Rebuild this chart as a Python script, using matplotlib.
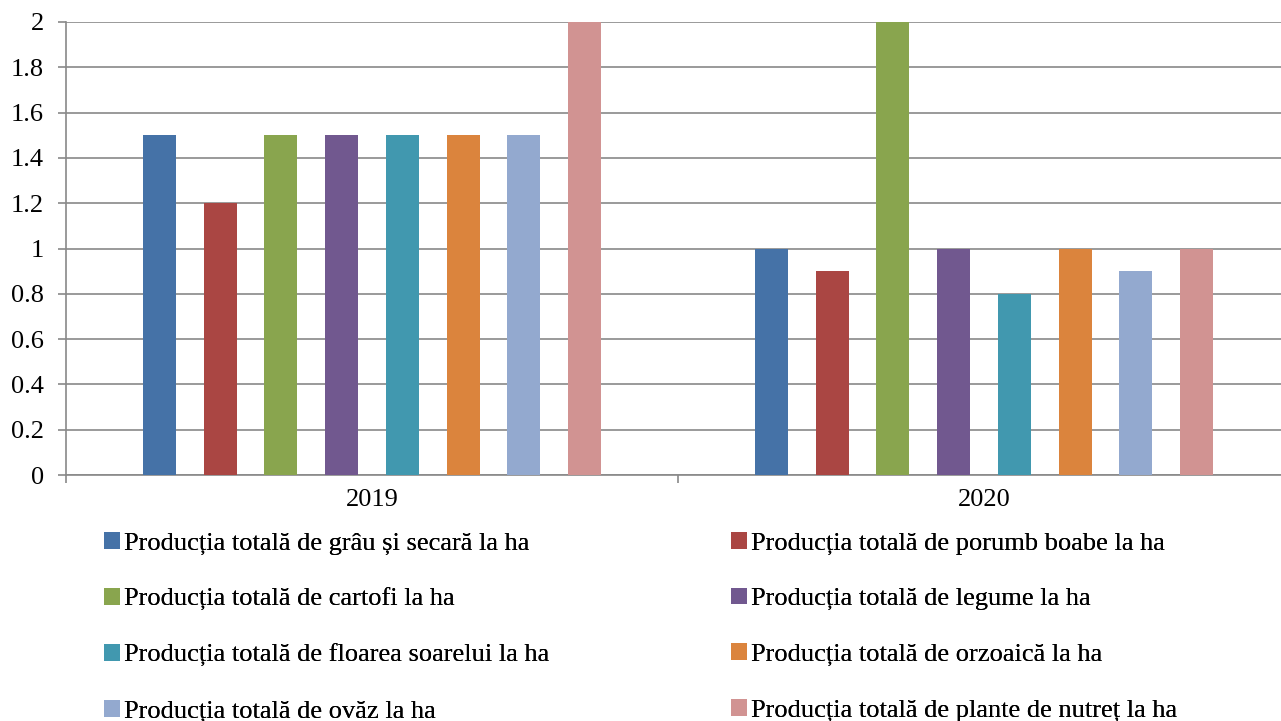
import matplotlib.pyplot as plt
import matplotlib.patches as patches
import numpy as np

plt.rcParams['font.family'] = ['Liberation Serif', 'DejaVu Serif']

# data
years = ['2019', '2020']
series_names = [
    'Producția totală de grâu și secară la ha',
    'Producția totală de porumb boabe la ha',
    'Producția totală de cartofi la ha',
    'Producția totală de legume la ha',
    'Producția totală de floarea soarelui la ha',
    'Producția totală de orzoaică la ha',
    'Producția totală de ovăz la ha',
    'Producția totală de plante de nutreț la ha',
]
values_2019 = [1.5, 1.2, 1.5, 1.5, 1.5, 1.5, 1.5, 2.0]
values_2020 = [1.0, 0.9, 2.0, 1.0, 0.8, 1.0, 0.9, 1.0]
y_ticks = [0, 0.2, 0.4, 0.6, 0.8, 1, 1.2, 1.4, 1.6, 1.8, 2]
y_tick_labels = ['0', '0.2', '0.4', '0.6', '0.8', '1', '1.2', '1.4', '1.6', '1.8', '2']

colors = ['#4572A7', '#AA4643', '#89A54E', '#71588F',
          '#4198AF', '#DB843D', '#93A9CF', '#D19392']
grid_col = '#898989'

W, H = 1281, 721
fig = plt.figure(figsize=(W / 100, H / 100), dpi=100)
fig.patch.set_facecolor('white')
# plot area: x 66..1290 px, y 22..475 px
ax = fig.add_axes([66 / W, (H - 475) / H, 1224 / W, 453 / H])
ax.set_facecolor('white')

x = np.arange(len(years))
step = 0.0992
bar_w = 0.054
handles = []
for i, name in enumerate(series_names):
    vals = [values_2019[i], values_2020[i]]
    b = ax.bar(x + (i - 3.5) * step, vals, bar_w, color=colors[i],
               zorder=3, label=name)
    handles.append(b)

ax.set_xlim(-0.5, 1.5)
ax.set_ylim(0, 2)
ax.set_yticks(y_ticks)
ax.set_yticklabels(y_tick_labels)
ax.yaxis.grid(True, color=grid_col, linewidth=1.2, zorder=0)

# category boundaries as major ticks, labels as minor ticks
ax.set_xticks([-0.5, 0.5, 1.5])
ax.set_xticklabels([])
ax.set_xticks(x, minor=True)
ax.set_xticklabels(years, minor=True)
ax.tick_params(axis='x', which='major', length=6, width=1.2, color=grid_col,
               direction='out')
ax.tick_params(axis='x', which='minor', length=0, pad=10, labelsize=19)
ax.tick_params(axis='y', length=6, width=1.2, color=grid_col, pad=10,
               labelsize=19)

for s in ['top', 'right']:
    ax.spines[s].set_visible(False)
for s in ['left', 'bottom']:
    ax.spines[s].set_color(grid_col)
    ax.spines[s].set_linewidth(1.2)

# legend in two columns, placed separately for control
order_cols = [[0, 2, 4, 6], [1, 3, 5, 7]]
col_x = [104 / W, 731 / W]
for cx, idx in zip(col_x, order_cols):
    leg = fig.legend([handles[k] for k in idx], [series_names[k] for k in idx],
                     loc='upper left', bbox_to_anchor=(cx, (H - 532) / H),
                     frameon=False, fontsize=19, handlelength=0.6,
                     handleheight=0.6, handletextpad=0.15, labelspacing=1.25,
                     borderaxespad=0, borderpad=0)
    fig.add_artist(leg)

fig.savefig('out.png', dpi=100)
